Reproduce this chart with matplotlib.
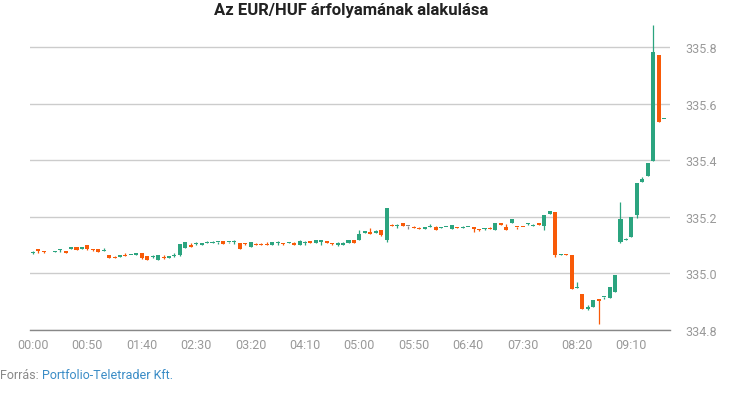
import matplotlib

matplotlib.use("Agg")

import matplotlib.pyplot as plt
import numpy as np
import pandas as pd

plt.rcParams["font.family"] = ["Roboto", "DejaVu Sans"]

TITLE = "Az EUR/HUF árfolyamának alakulása"
SOURCE_LABEL = "Forrás: "
SOURCE_NAME = "Portfolio-Teletrader Kft."

# 5 minute candles from 00:00 (index 3 has no trade)
TIMES = pd.date_range("2024-01-01 00:00", periods=117, freq="5min")

OPEN = [
    335.071, 335.085, 335.078, np.nan, 335.077, 335.083, 335.078, 335.086, 335.092, 335.086,
    335.099, 335.085, 335.085, 335.079, 335.067, 335.059, 335.058, 335.067, 335.066, 335.064,
    335.074, 335.060, 335.058, 335.047, 335.058, 335.054, 335.062, 335.064, 335.090, 335.102,
    335.104, 335.099, 335.109, 335.108, 335.110, 335.114, 335.112, 335.112, 335.106, 335.109,
    335.095, 335.105, 335.105, 335.103, 335.102, 335.108, 335.107, 335.107, 335.109, 335.100,
    335.106, 335.114, 335.107, 335.111, 335.114, 335.106, 335.100, 335.100, 335.107, 335.117,
    335.117, 335.143, 335.147, 335.143, 335.152, 335.117, 335.172, 335.168, 335.177, 335.168,
    335.163, 335.160, 335.159, 335.164, 335.164, 335.162, 335.164, 335.158, 335.163, 335.162,
    335.163, 335.166, 335.155, 335.156, 335.160, 335.155, 335.180, 335.166, 335.177, 335.166,
    335.165, 335.174, 335.169, 335.179, 335.167, 335.210, 335.216, 335.067, 335.069, 335.067,
    334.950, 334.929, 334.873, 334.880, 334.908, 334.917, 334.912, 334.933, 335.113, 335.118,
    335.128, 335.205, 335.325, 335.343, 335.396, 335.773, 335.546,
]
HIGH = [
    335.080, 335.085, 335.078, np.nan, 335.078, 335.085, 335.081, 335.095, 335.092, 335.092,
    335.099, 335.085, 335.085, 335.090, 335.067, 335.061, 335.067, 335.071, 335.067, 335.071,
    335.074, 335.060, 335.064, 335.064, 335.064, 335.062, 335.071, 335.103, 335.112, 335.109,
    335.110, 335.109, 335.116, 335.114, 335.112, 335.114, 335.113, 335.118, 335.106, 335.109,
    335.113, 335.109, 335.109, 335.113, 335.113, 335.114, 335.107, 335.113, 335.113, 335.120,
    335.114, 335.114, 335.117, 335.120, 335.114, 335.106, 335.111, 335.111, 335.117, 335.117,
    335.155, 335.150, 335.161, 335.152, 335.152, 335.230, 335.174, 335.174, 335.180, 335.168,
    335.169, 335.165, 335.166, 335.174, 335.169, 335.166, 335.165, 335.170, 335.163, 335.169,
    335.164, 335.166, 335.159, 335.162, 335.166, 335.180, 335.180, 335.174, 335.191, 335.166,
    335.165, 335.180, 335.174, 335.179, 335.208, 335.220, 335.216, 335.068, 335.069, 335.067,
    334.971, 334.929, 334.887, 334.905, 334.908, 334.918, 334.951, 334.993, 335.254, 335.127,
    335.201, 335.321, 335.342, 335.391, 335.879, 335.773, 335.547,
]
LOW = [
    335.068, 335.073, 335.071, np.nan, 335.077, 335.075, 335.072, 335.086, 335.083, 335.086,
    335.083, 335.078, 335.075, 335.079, 335.054, 335.055, 335.058, 335.062, 335.066, 335.064,
    335.052, 335.047, 335.054, 335.047, 335.051, 335.054, 335.059, 335.061, 335.090, 335.094,
    335.100, 335.099, 335.108, 335.106, 335.103, 335.103, 335.106, 335.103, 335.086, 335.099,
    335.095, 335.099, 335.099, 335.101, 335.102, 335.102, 335.100, 335.107, 335.102, 335.100,
    335.100, 335.107, 335.107, 335.100, 335.107, 335.100, 335.097, 335.100, 335.107, 335.107,
    335.117, 335.143, 335.140, 335.143, 335.132, 335.111, 335.169, 335.161, 335.167, 335.157,
    335.162, 335.158, 335.159, 335.164, 335.154, 335.162, 335.164, 335.158, 335.162, 335.162,
    335.163, 335.146, 335.149, 335.152, 335.158, 335.155, 335.171, 335.152, 335.177, 335.159,
    335.164, 335.171, 335.169, 335.172, 335.153, 335.210, 335.058, 335.067, 335.065, 334.945,
    334.950, 334.876, 334.869, 334.880, 334.820, 334.909, 334.912, 334.933, 335.106, 335.118,
    335.128, 335.196, 335.325, 335.343, 335.396, 335.537, 335.546,
]
CLOSE = [
    335.072, 335.079, 335.075, np.nan, 335.078, 335.085, 335.072, 335.095, 335.083, 335.092,
    335.088, 335.083, 335.075, 335.081, 335.054, 335.055, 335.067, 335.062, 335.067, 335.071,
    335.055, 335.047, 335.059, 335.064, 335.054, 335.062, 335.066, 335.103, 335.112, 335.094,
    335.105, 335.106, 335.110, 335.110, 335.112, 335.103, 335.113, 335.113, 335.086, 335.103,
    335.113, 335.102, 335.099, 335.101, 335.113, 335.110, 335.105, 335.113, 335.102, 335.114,
    335.107, 335.107, 335.117, 335.120, 335.107, 335.104, 335.107, 335.107, 335.117, 335.107,
    335.140, 335.150, 335.140, 335.150, 335.135, 335.230, 335.169, 335.169, 335.167, 335.168,
    335.162, 335.158, 335.166, 335.168, 335.154, 335.163, 335.165, 335.170, 335.162, 335.163,
    335.164, 335.159, 335.153, 335.158, 335.158, 335.180, 335.171, 335.152, 335.191, 335.164,
    335.164, 335.175, 335.170, 335.172, 335.208, 335.220, 335.065, 335.068, 335.067, 334.945,
    334.951, 334.876, 334.881, 334.905, 334.902, 334.918, 334.951, 334.993, 335.194, 335.119,
    335.201, 335.321, 335.335, 335.391, 335.784, 335.537, 335.547,
]

Y_TICKS = [334.8, 335.0, 335.2, 335.4, 335.6, 335.8]
X_TICK_EVERY = 10

UP_COLOR = "#2ba47f"
DOWN_COLOR = "#f85a08"
FLAT_COLOR = "#8a8a8a"


def candle_colors(opens, closes):
    colors = []
    for o, c in zip(opens, closes):
        if c > o:
            colors.append(UP_COLOR)
        elif c < o:
            colors.append(DOWN_COLOR)
        else:
            colors.append(FLAT_COLOR)
    return colors


def main():
    df = pd.DataFrame({"time": TIMES, "open": OPEN, "high": HIGH, "low": LOW, "close": CLOSE})
    df["pos"] = np.arange(len(df))
    df = df.dropna()

    colors = candle_colors(df["open"], df["close"])
    bottoms = np.minimum(df["open"], df["close"])
    heights = np.maximum((df["close"] - df["open"]).abs(), 0.0035)

    fig = plt.figure(figsize=(7.3, 4.1), dpi=100)
    ax = fig.add_axes([30 / 730, 79 / 410, 640 / 730, 311 / 410])

    ax.vlines(df["pos"], df["low"], df["high"], colors=colors, linewidth=0.9, zorder=2)
    ax.bar(df["pos"], heights, bottom=bottoms, width=0.74, color=colors, linewidth=0, zorder=3)

    ax.set_ylim(334.8, 335.9)
    ax.set_xlim(-0.55, 117.1)

    ax.set_yticks(Y_TICKS)
    ax.set_yticklabels([f"{v:.1f}" for v in Y_TICKS])
    ax.yaxis.tick_right()
    ax.grid(axis="y", color="#cccccc", linewidth=1.0, zorder=0)
    ax.set_axisbelow(True)

    tick_pos = np.arange(0, len(TIMES), X_TICK_EVERY)
    ax.set_xticks(tick_pos)
    ax.set_xticklabels([TIMES[i].strftime("%H:%M") for i in tick_pos])

    ax.tick_params(axis="both", length=0, labelsize=9, colors="#999999")
    ax.tick_params(axis="x", pad=6)
    ax.tick_params(axis="y", pad=11)

    for side in ["top", "left", "right"]:
        ax.spines[side].set_visible(False)
    ax.spines["bottom"].set_color("#888888")
    ax.spines["bottom"].set_linewidth(1.0)

    fig.text(351 / 730, 1 - 10 / 410, TITLE, ha="center", va="center",
             fontsize=12, fontweight="bold", color="#222222")

    src = fig.text(0.0, 1 - 376 / 410, SOURCE_LABEL, ha="left", va="center",
                   fontsize=9, color="#888888")
    ax.annotate(SOURCE_NAME, xy=(1, 0.5), xycoords=src, ha="left", va="center",
                fontsize=9, color="#3a8cc6", annotation_clip=False)

    fig.savefig("out.png", dpi=100)
    plt.close(fig)


if __name__ == "__main__":
    main()
